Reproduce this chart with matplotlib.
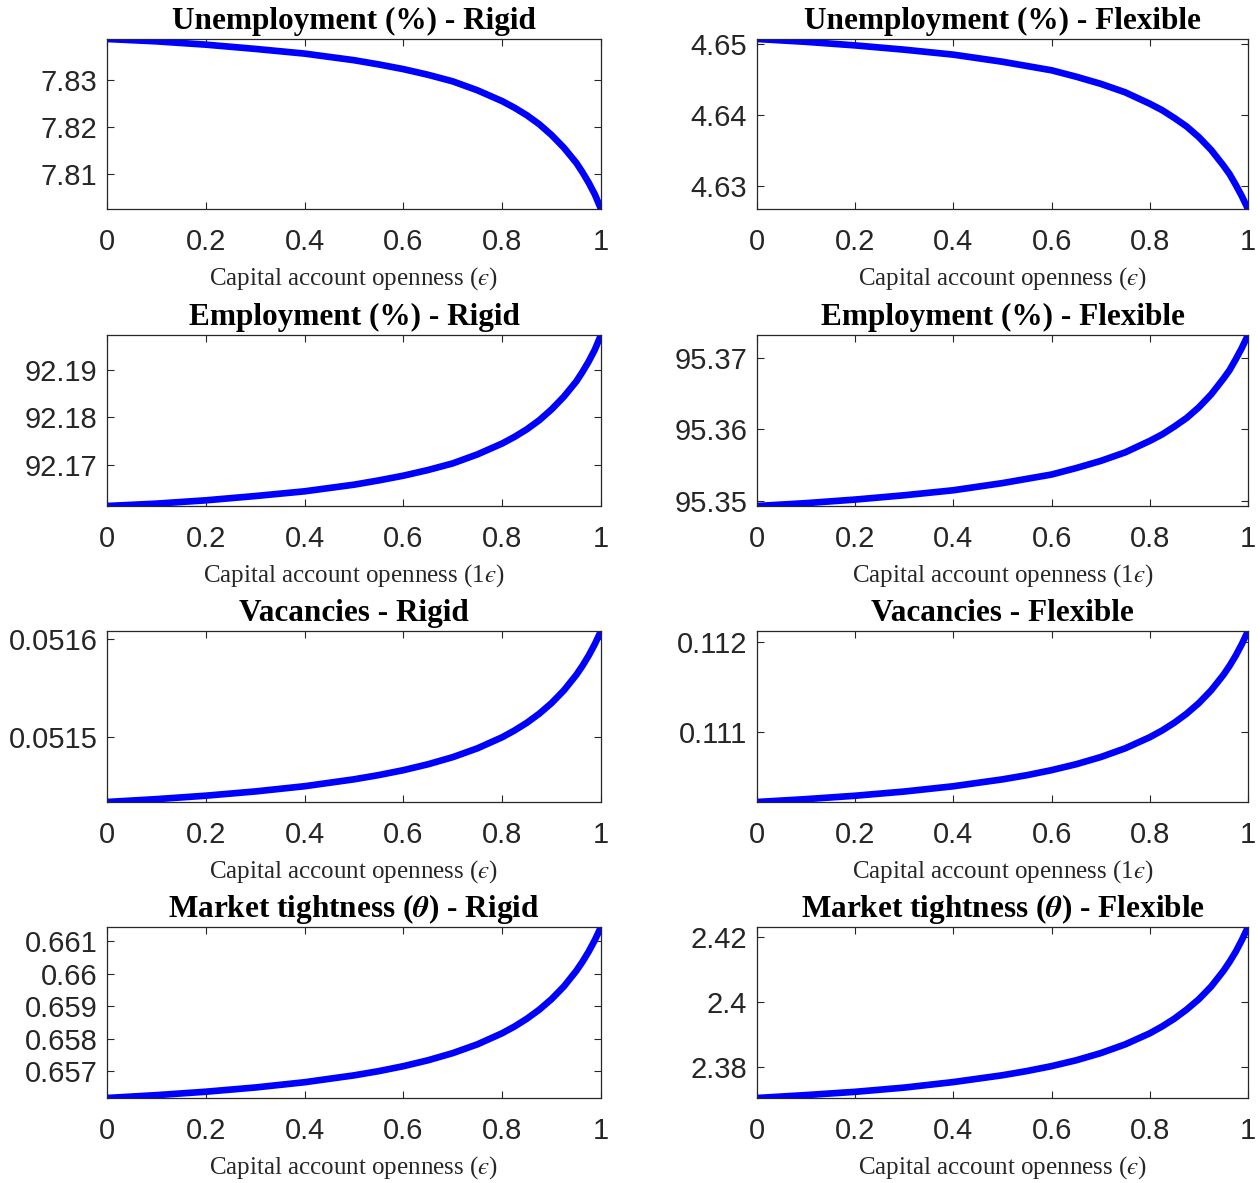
from __future__ import annotations

import matplotlib

matplotlib.use("Agg")
import matplotlib.pyplot as plt
import numpy as np

# Capital account openness grid
epsilon = [0.0, 0.1, 0.2, 0.3, 0.4, 0.5, 0.55, 0.6, 0.65, 0.7, 0.75, 0.8,
           0.825, 0.85, 0.875, 0.9, 0.925, 0.95, 0.9625, 0.975, 0.9875, 1.0]

unemp_rigid = [7.8387, 7.8382, 7.8375, 7.8366, 7.8356, 7.8342, 7.8333, 7.8323,
               7.8311, 7.8297, 7.8278, 7.8255, 7.8241, 7.8225, 7.8206, 7.8183,
               7.8156, 7.8124, 7.8104, 7.8082, 7.8057, 7.8026]
unemp_flex = [4.6507, 4.6503, 4.6498, 4.6492, 4.6485, 4.6475, 4.6469, 4.6463,
              4.6454, 4.6444, 4.6432, 4.6416, 4.6407, 4.6396, 4.6384, 4.6369,
              4.6351, 4.6329, 4.6317, 4.6302, 4.6286, 4.6268]
emp_rigid = [92.1613, 92.1618, 92.1625, 92.1634, 92.1644, 92.1658, 92.1667, 92.1677,
             92.1689, 92.1703, 92.1722, 92.1745, 92.1759, 92.1775, 92.1794, 92.1817,
             92.1844, 92.1876, 92.1896, 92.1918, 92.1943, 92.1974]
emp_flex = [95.3493, 95.3497, 95.3502, 95.3508, 95.3515, 95.3525, 95.3531, 95.3537,
            95.3546, 95.3556, 95.3568, 95.3584, 95.3593, 95.3604, 95.3616, 95.3631,
            95.3649, 95.3671, 95.3683, 95.3698, 95.3714, 95.3732]
vac_rigid = [0.0514345, 0.0514374, 0.0514409, 0.0514452, 0.0514505, 0.0514575,
             0.0514618, 0.0514668, 0.0514728, 0.0514800, 0.0514890, 0.0515002,
             0.0515071, 0.0515149, 0.0515241, 0.0515349, 0.0515478, 0.0515635,
             0.0515727, 0.0515830, 0.0515947, 0.0516080]
vac_flex = [0.110213, 0.110245, 0.110283, 0.110330, 0.110389, 0.110466, 0.110513,
            0.110569, 0.110635, 0.110715, 0.110813, 0.110937, 0.111012, 0.111099,
            0.111200, 0.111319, 0.111461, 0.111634, 0.111735, 0.111849, 0.111978,
            0.112124]
theta_rigid = [0.656180, 0.656268, 0.656373, 0.656503, 0.656665, 0.656876, 0.657006,
               0.657159, 0.657341, 0.657561, 0.657832, 0.658173, 0.658380, 0.658619,
               0.658896, 0.659223, 0.659614, 0.660091, 0.660370, 0.660683, 0.661037,
               0.661440]
theta_flex = [2.3705, 2.3714, 2.3724, 2.3737, 2.3754, 2.3775, 2.3788, 2.3803,
              2.3821, 2.3843, 2.3870, 2.3904, 2.3925, 2.3949, 2.3977, 2.4009,
              2.4048, 2.4096, 2.4124, 2.4155, 2.4191, 2.4231]

x_ticks = [0, 0.2, 0.4, 0.6, 0.8, 1]
x_tick_labels = ["0", "0.2", "0.4", "0.6", "0.8", "1"]

titles = [
    "Unemployment (%) - Rigid", "Unemployment (%) - Flexible",
    "Employment (%) - Rigid", "Employment (%) - Flexible",
    "Vacancies - Rigid", "Vacancies - Flexible",
    r"Market tightness ($\boldsymbol{\theta}$) - Rigid",
    r"Market tightness ($\boldsymbol{\theta}$) - Flexible",
]
x_labels = [
    "Capital account openness ($\u03f5$)", "Capital account openness ($\u03f5$)",
    "Capital account openness (1$\u03f5$)", "Capital account openness (1$\u03f5$)",
    "Capital account openness ($\u03f5$)", "Capital account openness (1$\u03f5$)",
    "Capital account openness ($\u03f5$)", "Capital account openness ($\u03f5$)",
]
y_ticks = [
    [7.81, 7.82, 7.83], [4.63, 4.64, 4.65],
    [92.17, 92.18, 92.19], [95.35, 95.36, 95.37],
    [0.0515, 0.0516], [0.111, 0.112],
    [0.657, 0.658, 0.659, 0.66, 0.661], [2.38, 2.40, 2.42],
]
y_tick_labels = [
    ["7.81", "7.82", "7.83"], ["4.63", "4.64", "4.65"],
    ["92.17", "92.18", "92.19"], ["95.35", "95.36", "95.37"],
    ["0.0515", "0.0516"], ["0.111", "0.112"],
    ["0.657", "0.658", "0.659", "0.66", "0.661"], ["2.38", "2.4", "2.42"],
]
series = [unemp_rigid, unemp_flex, emp_rigid, emp_flex,
          vac_rigid, vac_flex, theta_rigid, theta_flex]

plt.rcParams["mathtext.fontset"] = "stix"
plt.rcParams["font.family"] = "Liberation Serif"

W, H = 1260, 1183
fig = plt.figure(figsize=(W / 100, H / 100), dpi=100)

col_px = [(107, 601), (757, 1248)]
row_px = [(39, 209), (335, 506), (631, 802), (927, 1098)]

gris = (0.15, 0.15, 0.15)
for k, y in enumerate(series):
    r, c = divmod(k, 2)
    x0, x1 = col_px[c]
    t0, t1 = row_px[r]
    ax = fig.add_axes([x0 / W, 1 - t1 / H, (x1 - x0) / W, (t1 - t0) / H])
    y = np.asarray(y, dtype=float)
    ax.plot(epsilon, y, color=(0, 0, 1), linewidth=4.8, solid_capstyle="butt",
            solid_joinstyle="round")
    ax.set_xlim(0, 1)
    ax.set_ylim(y.min(), y.max())
    ax.set_xticks(x_ticks)
    ax.set_xticklabels(x_tick_labels)
    ax.set_yticks(y_ticks[k])
    ax.set_yticklabels(y_tick_labels[k])
    ax.tick_params(direction="in", length=5, width=0.8, top=True, right=True,
                   colors=gris, labelsize=21)
    ax.tick_params(axis="x", pad=14)
    ax.tick_params(axis="y", pad=7)
    for lab in ax.get_xticklabels() + ax.get_yticklabels():
        lab.set_fontfamily("Liberation Sans")
    for sp in ax.spines.values():
        sp.set_color(gris)
        sp.set_linewidth(0.9)
    ax.set_title(titles[k], fontsize=22.5, fontweight="bold", pad=7)
    ax.set_xlabel(x_labels[k], fontsize=18, color=gris, labelpad=6)

fig.savefig("out.png", dpi=100, facecolor="white")
